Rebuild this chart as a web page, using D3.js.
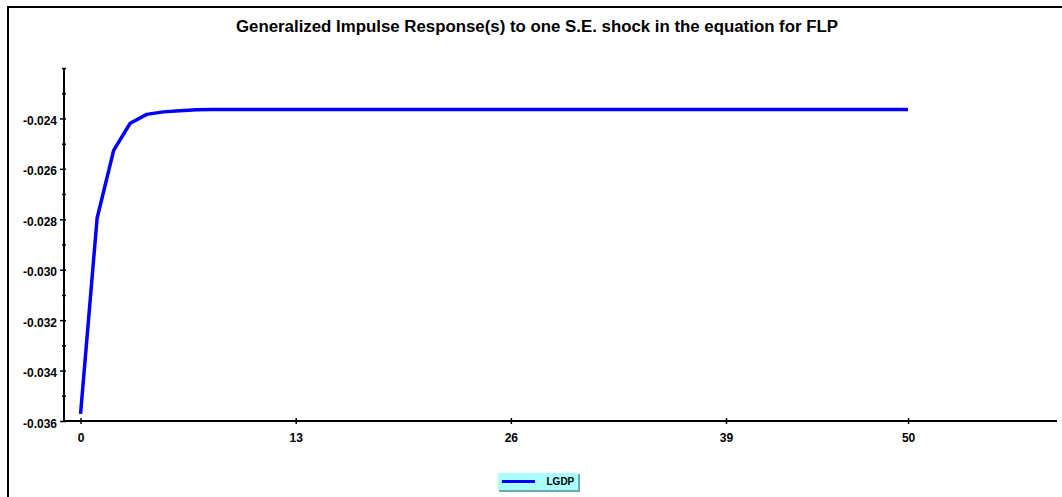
<!DOCTYPE html>
<html>
<head>
<meta charset="utf-8">
<script src="https://cdn.jsdelivr.net/npm/d3@7"></script>
<style>
	body { margin: 0; background: #fff; }
	svg { display: block; }
</style>
</head>
<body>
<script>
	// data
	const periods = d3.range(0, 51);
	const headValues = [-0.03572, -0.02796, -0.02527, -0.02419, -0.02384, -0.02374, -0.02370, -0.02366];
	const plateau = -0.02365;
	const lgdp = periods.map((p) => (p < headValues.length ? headValues[p] : plateau));
	const xTickValues = [0, 13, 26, 39, 50];
	const yMajorTicks = [-0.036, -0.034, -0.032, -0.030, -0.028, -0.026, -0.024];
	const yMinorTicks = [-0.035, -0.033, -0.031, -0.029, -0.027, -0.025, -0.023, -0.022];
	const seriesName = "LGDP";
	const title = "Generalized Impulse Response(s) to one S.E. shock in the equation for FLP";

	let w = 1062;
	let h = 497;

	const svg = d3.select("body").append("svg").attr("width", w).attr("height", h);

	// outer frame (left and top edges only)
	svg.append("path")
		.attr("d", "M8," + h + "V7H" + w)
		.attr("fill", "none")
		.attr("stroke", "#000")
		.attr("stroke-width", 2);

	svg.append("text")
		.text(title)
		.attr("x", 537)
		.attr("y", 32)
		.attr("text-anchor", "middle")
		.attr("textLength", 602)
		.attr("lengthAdjust", "spacingAndGlyphs")
		.style("font-family", "'Liberation Sans', Arial, sans-serif")
		.style("font-weight", "bold")
		.style("font-size", "16px");

	const xScale = d3.scaleLinear().domain([-1, 59]).range([64, 1057]);
	const yScale = d3.scaleLinear().domain([-0.036, -0.022]).range([421, 68]);

	const labelFont = (sel, size) =>
		sel.style("font-family", "'Liberation Sans', Arial, sans-serif")
			.style("font-weight", "bold")
			.style("font-size", (size || 12) + "px")
			.attr("fill", "#000");

	// y axis: major ticks with labels
	const yAxis = svg.append("g").attr("transform", "translate(64,0)")
		.call(d3.axisLeft(yScale).tickValues(yMajorTicks).tickSize(4).tickPadding(3));
	yAxis.select(".domain").remove();
	yAxis.selectAll("line").attr("stroke-width", 1.5);
	yAxis.selectAll("text").call(labelFont).attr("dy", "0.5em").text((d) => d3.format(".3f")(d).replace("−", "-"));

	// inner part of major ticks + minor ticks both sides
	svg.append("g").attr("transform", "translate(64,0)")
		.call(d3.axisRight(yScale).tickValues(yMajorTicks.concat(yMinorTicks)).tickSize(2).tickFormat(""))
		.call((g) => g.select(".domain").remove())
		.selectAll("line").attr("stroke-width", 1.5);
	svg.append("g").attr("transform", "translate(64,0)")
		.call(d3.axisLeft(yScale).tickValues(yMinorTicks).tickSize(2).tickFormat(""))
		.call((g) => g.select(".domain").remove())
		.selectAll("line").attr("stroke-width", 1.5);

	svg.append("line")
		.attr("x1", 64).attr("x2", 64)
		.attr("y1", yScale(-0.022)).attr("y2", yScale(-0.036) + 1)
		.attr("stroke", "#000").attr("stroke-width", 2);

	// x axis
	const xAxis = svg.append("g").attr("transform", "translate(0,421)")
		.call(d3.axisBottom(xScale).tickValues(xTickValues).tickSize(3));
	xAxis.select(".domain").remove();
	xAxis.selectAll("line").attr("y1", -3).attr("stroke-width", 1.5);
	xAxis.selectAll("text").call(labelFont).attr("y", 21).attr("dy", 0);

	svg.append("line")
		.attr("x1", 63).attr("x2", 1057)
		.attr("y1", 421).attr("y2", 421)
		.attr("stroke", "#000").attr("stroke-width", 2);

	// response line
	const line = d3.line().x((d, i) => xScale(periods[i])).y((d) => yScale(d));
	svg.append("path")
		.datum(lgdp)
		.attr("d", line)
		.attr("fill", "none")
		.attr("stroke", "#0000ff")
		.attr("stroke-width", 3.5)
		.attr("stroke-linejoin", "round");

	// legend
	const legend = svg.append("g").attr("transform", "translate(498,473)");
	legend.append("rect").attr("x", 1).attr("y", 1).attr("width", 81).attr("height", 18).attr("fill", "#6fa8a8");
	legend.append("rect").attr("width", 80).attr("height", 17).attr("fill", "#aaffff");
	legend.append("line").attr("x1", 4).attr("x2", 37).attr("y1", 8.5).attr("y2", 8.5)
		.attr("stroke", "#0000ff").attr("stroke-width", 3);
	legend.append("text").text(seriesName).attr("x", 48.5).attr("y", 11.5).call(labelFont, 10);
</script>
</body>
</html>
